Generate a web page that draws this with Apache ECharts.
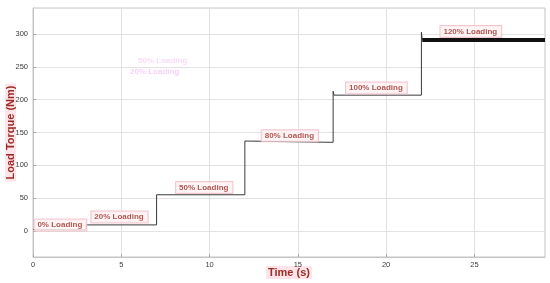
<!DOCTYPE html>
<html>
<head>
<meta charset="utf-8">
<script src="https://cdn.jsdelivr.net/npm/echarts@6/dist/echarts.min.js"></script>
<style>
  html, body { margin: 0; padding: 0; background: #fff; }
  #main { width: 550px; height: 283px; }
</style>
</head>
<body>
<div id="main"></div>
<script>
// step response of the load torque (time s, torque Nm)
const stepTimes  = [0, 3, 3, 7, 7, 12, 12, 12.05, 17, 17, 17.05, 22, 22, 22.05]
const stepTorque = [2, 2, 9, 9, 55, 55, 137, 135, 135, 213, 207, 207, 303, 291]
// steady state at full overload (drawn as a thick band)
const fullTimes  = [22.05, 29]
const fullTorque = [291, 291]

const loadNames  = ['0% Loading', '20% Loading', '50% Loading', '80% Loading', '100% Loading', '120% Loading']
const loadLabelX = [1.55, 4.9, 9.7, 14.55, 19.45, 24.8]
const loadLabelY = [9, 21, 66, 145, 218, 304]

const xTicks = [0, 5, 10, 15, 20, 25]
const yTicks = [0, 50, 100, 150, 200, 250, 300]

const zip = (a, b) => a.map((v, i) => [v, b[i]])

const labelStyle = {
  show: true,
  position: 'inside',
  formatter: p => p.name,
  color: '#9c2d24',
  fontWeight: 'bold',
  fontSize: 8,
  fontFamily: 'Liberation Sans, Arial, sans-serif',
  backgroundColor: '#fff2f4',
  borderColor: '#efb9c3',
  borderWidth: 1,
  padding: [2, 4, 1, 3]
}

let option = {
  animation: false,
  backgroundColor: '#fff',
  grid: {
    left: 33, right: 5, top: 8, bottom: 26,
    outerBoundsMode: 'none',
    containLabel: false,
    show: true, borderColor: '#c4c4c4', borderWidth: 1
  },
  xAxis: {
    type: 'value',
    min: 0, max: 29,
    name: 'Time (s)',
    nameLocation: 'middle',
    nameGap: 9,
    nameMoveOverlap: false,
    nameTextStyle: {
      color: '#9c2d24', fontWeight: 'bold', fontSize: 11,
      fontFamily: 'Liberation Sans, Arial, sans-serif',
      backgroundColor: '#ffe4ea', padding: [1, 2]
    },
    axisLine: { show: true, onZero: false, lineStyle: { color: '#c4c4c4' } },
    axisTick: { show: true, inside: true, length: 3, customValues: xTicks, lineStyle: { color: '#aaa' } },
    axisLabel: { customValues: xTicks, fontSize: 7.5, color: '#3a3a3a', margin: 4, fontFamily: 'Liberation Sans, Arial, sans-serif' },
    splitLine: { show: true, lineStyle: { color: '#e2e2e2' } }
  },
  yAxis: {
    type: 'value',
    min: -40, max: 340,
    name: 'Load Torque (Nm)',
    nameLocation: 'middle',
    nameGap: 17,
    nameMoveOverlap: false,
    nameTextStyle: {
      color: '#9c2d24', fontWeight: 'bold', fontSize: 11,
      fontFamily: 'Liberation Sans, Arial, sans-serif',
      backgroundColor: '#ffe4ea', padding: [0, 2]
    },
    axisLine: { show: true, onZero: false, lineStyle: { color: '#c4c4c4' } },
    axisTick: { show: true, inside: true, length: 3, customValues: yTicks, lineStyle: { color: '#aaa' } },
    axisLabel: { customValues: yTicks, fontSize: 7.5, color: '#3a3a3a', margin: 5, fontFamily: 'Liberation Sans, Arial, sans-serif' },
    splitLine: { show: true, lineStyle: { color: '#e2e2e2' } }
  },
  graphic: [
    { type: 'text', left: 138, top: 57, style: { text: '50% Loading', fill: '#f8dcf8', font: 'bold 8px Liberation Sans' } },
    { type: 'text', left: 130, top: 68, style: { text: '20% Loading', fill: '#f6d2f6', font: 'bold 8px Liberation Sans' } }
  ],
  series: [
    {
      type: 'line',
      data: zip(stepTimes, stepTorque),
      symbol: 'none',
      lineStyle: { color: '#3a3a3a', width: 1 }
    },
    {
      type: 'line',
      data: zip(fullTimes, fullTorque),
      symbol: 'none',
      lineStyle: { color: '#111', width: 4 }
    },
    {
      type: 'scatter',
      symbolSize: 0,
      data: loadNames.map((n, i) => ({ name: n, value: [loadLabelX[i], loadLabelY[i]] })),
      label: labelStyle,
      z: 5
    }
  ]
}

let myChart = echarts.init(document.getElementById('main'))
myChart.setOption(option)
</script>
</body>
</html>
